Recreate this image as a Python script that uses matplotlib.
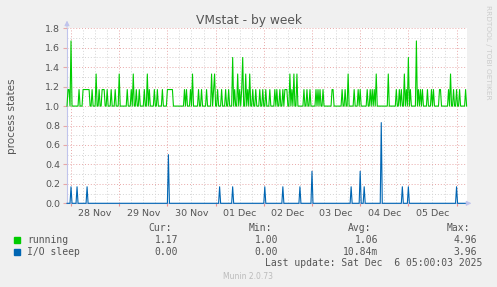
import numpy as np
import matplotlib
matplotlib.use('Agg')
import matplotlib.pyplot as plt
from matplotlib.patches import Rectangle

# 数据 (小时, 以 11月28日 00:00 为 0)
run_hours = [-1.5, -1.0, 0.0, 4.0, 6.0, 6.5, 7.0, 7.5, 8.0, 8.5, 9.0, 10.5, 12.5, 14.0,
             15.5, 16.0, 16.5, 18.0, 20.0, 22.0, 24.0, 28.0, 30.0, 31.0, 32.5, 34.0,
             36.5, 38.0, 39.0, 41.5, 43.0, 45.5, 48.0, 48.5, 49.0, 49.5, 50.0, 50.5,
             56.5, 57.5, 59.5, 60.5, 63.5, 65.0, 67.5, 70.0, 71.0, 71.5, 73.0, 75.0,
             77.0, 78.5, 80.5, 81.5, 83.0, 84.0, 85.0, 85.5, 87.0, 88.0, 89.0, 90.5,
             92.0, 94.0, 95.5, 97.0, 99.0, 101.5, 102.5, 104.0, 105.5, 106.5, 107.0,
             107.5, 109.0, 110.0, 111.0, 112.5, 116.0, 117.5, 119.0, 122.0, 123.0,
             124.0, 125.5, 130.0, 130.5, 135.0, 136.5, 138.0, 141.0, 143.0, 144.0,
             147.5, 149.0, 150.0, 151.0, 152.0, 158.0, 162.0, 163.5, 164.5, 166.0,
             167.0, 168.0, 169.0, 172.0, 173.0, 174.0, 175.0, 177.5, 179.5, 180.5,
             183.5, 184.0, 188.0, 189.0, 190.5, 192.0, 193.5, 196.5]
run_levels = [1.17, 1.17, 1.67, 1.17, 1.17, 1.17, 1.17, 1.17, 1.17, 1.17, 1.17, 1.17, 1.33, 1.17,
              1.17, 1.17, 1.17, 1.17, 1.17, 1.17, 1.33, 1.17, 1.17, 1.33, 1.17, 1.17,
              1.17, 1.33, 1.17, 1.17, 1.17, 1.17, 1.17, 1.17, 1.17, 1.17, 1.17, 1.17,
              1.17, 1.17, 1.17, 1.33, 1.17, 1.17, 1.17, 1.33, 1.17, 1.33, 1.17, 1.17,
              1.17, 1.17, 1.5, 1.17, 1.33, 1.17, 1.17, 1.5, 1.33, 1.17, 1.33, 1.17,
              1.17, 1.17, 1.17, 1.17, 1.17, 1.17, 1.17, 1.17, 1.17, 1.17, 1.17,
              1.17, 1.33, 1.17, 1.33, 1.33, 1.17, 1.17, 1.17, 1.17, 1.17,
              1.17, 1.17, 1.17, 1.17, 1.17, 1.17, 1.33, 1.17, 1.17, 1.17,
              1.17, 1.17, 1.17, 1.17, 1.33, 1.33, 1.17, 1.17, 1.17, 1.33,
              1.17, 1.5, 1.17, 1.67, 1.17, 1.17, 1.17, 1.17, 1.17, 1.17,
              1.17, 1.17, 1.17, 1.33, 1.17, 1.17, 1.17, 1.17]
io_hours = [0.0, 3.0, 8.0, 48.5, 74.0, 80.5, 96.5, 105.5, 114.0, 120.0, 139.5, 144.0,
            146.0, 154.5, 165.0, 168.0, 192.0]
io_levels = [0.17, 0.17, 0.17, 0.5, 0.17, 0.17, 0.17, 0.17, 0.17, 0.33, 0.17, 0.33,
             0.17, 0.83, 0.17, 0.17, 0.17]
run_base = 1.0
io_base = 0.0

day_labels = ['28 Nov', '29 Nov', '30 Nov', '01 Dec', '02 Dec', '03 Dec', '04 Dec', '05 Dec']
series_names = ['running', 'I/O sleep']
cur_vals = ['1.17', '0.00']
min_vals = ['1.00', '0.00']
avg_vals = ['1.06', '10.84m']
max_vals = ['4.96', '3.96']

GREEN = '#00CC00'
BLUE = '#0066B3'
TXT = '#555555'
BG = '#F0F0F0'

# 30 分钟采样
t = np.arange(-2.0, 197.01, 0.5)
running = np.full(len(t), run_base)
io = np.full(len(t), io_base)
for h, v in zip(run_hours, run_levels):
    running[np.argmin(np.abs(t - h))] = v
for h, v in zip(io_hours, io_levels):
    io[np.argmin(np.abs(t - h))] = v

W, H = 497, 287
fig = plt.figure(figsize=(W / 100, H / 100), dpi=100, facecolor=BG)
ax = fig.add_axes([67 / W, (H - 203.3) / H, 400 / W, 175 / H])
ax.set_facecolor('white')

ax.plot(t, running, color=GREEN, lw=0.8, clip_on=False, zorder=3)
ax.plot(t, io, color=BLUE, lw=0.8, clip_on=False, zorder=3)

ax.set_xlim(-2.0, 197.2)
ax.set_ylim(0, 1.8)

# 网格
midnights = np.arange(0, 193, 24)
six_h = [h for h in np.arange(-0, 197, 6) if h % 24 != 0]
ax.set_xticks(midnights)
ax.set_xticklabels([''] * len(midnights))
ax.set_xticks(six_h, minor=True)
ax.set_yticks(np.arange(0, 1.81, 0.2))
ax.set_yticklabels(['%.1f' % v for v in np.arange(0, 1.81, 0.2)], fontsize=6.8, color=TXT)
ax.set_yticks(np.arange(0.1, 1.8, 0.2), minor=True)
ax.grid(which='major', color='#E8A8A8', ls=(0, (1, 2)), lw=0.7)
ax.grid(which='minor', color='#D4D4D4', ls=(0, (1, 2)), lw=0.7)
ax.tick_params(axis='x', which='major', length=2, color='#E89090', pad=0)
ax.tick_params(axis='y', which='major', length=3, color='#E8A8A8', pad=2)
ax.tick_params(which='minor', length=0)
for s in ['top', 'right']:
    ax.spines[s].set_visible(False)
ax.spines['left'].set_color('#C0C4EC')
ax.spines['bottom'].set_color('#C0C4EC')
ax.spines['left'].set_linewidth(0.8)
ax.spines['bottom'].set_linewidth(0.8)

# 日期标签 (中午)
for i, lab in enumerate(day_labels):
    ax.text(12 + 24 * i, -0.035, lab, transform=ax.get_xaxis_transform(),
            ha='center', va='top', fontsize=6.8, color=TXT)

# 坐标轴箭头
ax.annotate('', xy=(0, 1.06), xytext=(0, 0.99), xycoords='axes fraction',
            arrowprops=dict(arrowstyle='-|>', color='#C0C4EC', lw=0.8, mutation_scale=7))
ax.annotate('', xy=(1.018, 0), xytext=(0.995, 0), xycoords='axes fraction',
            arrowprops=dict(arrowstyle='-|>', color='#C0C4EC', lw=0.8, mutation_scale=7))

ax.set_ylabel('process states', fontsize=7.5, color=TXT)
ax.yaxis.set_label_coords((17 - 67) / 400, 0.5)

def fx(x):
    return x / W

def fy(y):
    return 1 - y / H

fig.text(fx(W / 2), fy(24), 'VMstat - by week', ha='center', va='baseline',
         fontsize=8.8, color=TXT)
fig.text(fx(488), fy(5), 'RRDTOOL / TOBI OETIKER', rotation=270, ha='center', va='top',
         fontsize=5.3, color='#CCCCCC')

# 图例
mono = dict(family='DejaVu Sans Mono', fontsize=7, color=TXT, va='center')
for x, lab in [(172, 'Cur:'), (272, 'Min:'), (371, 'Avg:'), (470, 'Max:')]:
    fig.text(fx(x), fy(227.7), lab, ha='right', **mono)
cols = [(178, cur_vals), (278, min_vals), (378, avg_vals), (477, max_vals)]
for i, (name, col) in enumerate(zip(series_names, [GREEN, BLUE])):
    y = 239.7 + 12 * i
    fig.patches.append(Rectangle((fx(14), fy(y + 2.8)), 5.5 / W, 5.5 / H,
                                 transform=fig.transFigure, color=col, figure=fig))
    fig.text(fx(27), fy(y), name, ha='left', **mono)
    for x, vals in cols:
        fig.text(fx(x), fy(y), vals[i], ha='right', **mono)
fig.text(fx(482), fy(263.3), 'Last update: Sat Dec  6 05:00:03 2025', ha='right', **mono)
fig.text(fx(248), fy(276.3), 'Munin 2.0.73', ha='center', va='center',
         fontsize=5.5, color='#BBBBBB')

fig.savefig('out.png', dpi=100, facecolor=BG)
